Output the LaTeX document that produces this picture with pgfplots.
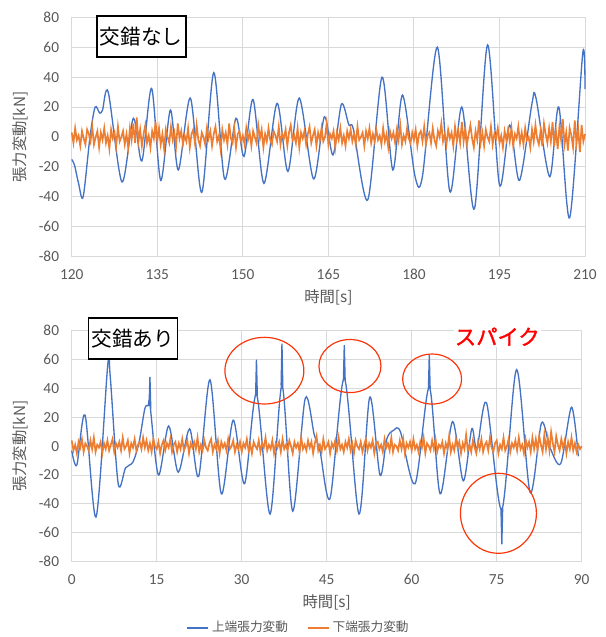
\documentclass[border=0pt]{standalone}
\usepackage{pgfplots}
\pgfplotsset{compat=1.18}
\usepackage{fontspec}
\setmainfont{Carlito}
\newfontfamily\jp{Noto Sans CJK JP}
\newfontfamily\jpbold[FakeBold=1.5]{Noto Sans CJK JP}
\definecolor{blueline}{HTML}{4472C4}
\definecolor{orangeline}{HTML}{ED7D31}
\definecolor{gridgray}{HTML}{D9D9D9}
\definecolor{tickgray}{HTML}{595959}
\definecolor{circred}{RGB}{250,55,10}
\pgfplotsset{
  panel/.style={
    scale only axis,
    ymin=-80, ymax=80, ytick={-80,-60,...,80},
    grid=major,
    major grid style={draw=gridgray, line width=0.75pt},
    axis line style={draw=gridgray, line width=0.75pt},
    major tick length=0pt,
    tick style={draw=none},
    ticklabel style={font=\fontsize{11.5}{13}\selectfont, text=tickgray},
    yticklabel style={xshift=-6pt},
    xticklabel style={yshift=-6pt},
    /pgf/number format/assume math mode=true,
    every axis y label/.style={at={(axis description cs:0,0.5)}, xshift=-38.8pt, rotate=90, anchor=center, font=\jp\fontsize{11.5}{13}\selectfont, text=tickgray},
    every axis x label/.style={at={(axis description cs:0.5,0)}, yshift=-30.75pt, anchor=center, font=\jp\fontsize{11.5}{13}\selectfont, text=tickgray},
    ylabel={張力変動[kN]},
    xlabel={時間[s]},
    clip=false,
  },
}
\begin{document}
\begin{tikzpicture}
\path[use as bounding box] (0,0) rectangle (454.5pt,477.75pt);
% ---------------- top panel ----------------
\begin{axis}[panel, at={(53.8pt,285.2pt)}, anchor=south west, width=385pt, height=179.6pt,
  xmin=120, xmax=210, xtick={120,135,...,210}]
\addplot[blueline, line width=1pt, smooth, tension=0.5] coordinates {
(120.0,-15) (120.5,-19) (121.2,-31) (122.0,-40) (123.2,0) (124.1,20) (124.9,16) (125.4,18) (126.4,30)
(128.8,-30) (130.8,12.5) (132.3,-16) (134.0,32.5) (135.6,-29) (137.3,18) (138.7,-22) (140.8,26)
(142.8,-37) (144.9,43) (146.8,-28) (148.8,12.5) (150.2,-13) (151.8,25) (153.7,-31) (156.0,22.5)
(157.9,-23) (159.9,26) (162.4,-28) (164.3,13.5) (165.8,-12) (167.3,22) (168.6,8) (169.4,5)
(171.9,-42) (174.4,40) (176.3,-22) (178.0,28) (180.2,-26.5) (181.5,-26) (184.1,60) (186.3,-36.5)
(188.4,20) (190.6,-48) (192.9,61.5) (195.0,-32) (196.8,8) (198.5,-29) (200.7,22.5) (201.4,26)
(203.8,-26.5) (205.4,20) (207.3,-54) (209.6,56) (210,32)};
\addplot[orangeline, line width=1.25pt] table[x expr={120+0.3*\coordindex}, y index=0, header=false, row sep=\\] {
3\\-4\\6\\-2\\1\\-6\\4\\-1\\-5\\5\\2\\-3\\7\\-5\\0\\4\\-7\\3\\-2\\6\\
-4\\1\\-8\\5\\-1\\3\\-6\\7\\-3\\0\\4\\-5\\2\\-7\\6\\-2\\9\\-4\\13\\-3\\
5\\-6\\2\\8\\-4\\1\\-7\\4\\-1\\10\\-3\\6\\-5\\2\\-8\\5\\0\\-4\\7\\-2\\
3\\-6\\9\\-1\\4\\-5\\1\\-3\\6\\-7\\2\\5\\-4\\8\\-2\\-6\\3\\0\\-5\\6\\
-1\\4\\-6\\2\\7\\-3\\1\\-8\\5\\-2\\3\\-5\\9\\-1\\-4\\6\\-7\\2\\4\\-3\\
1\\-5\\6\\-2\\3\\-6\\4\\0\\-4\\8\\-1\\5\\-7\\2\\-3\\6\\-2\\-5\\4\\1\\
-3\\7\\-5\\2\\-1\\5\\-6\\3\\8\\-2\\1\\-4\\6\\-7\\3\\-1\\4\\-5\\2\\7\\
-4\\1\\5\\-6\\3\\-2\\6\\-3\\0\\9\\-5\\2\\-1\\4\\-7\\3\\-2\\6\\-4\\1\\
-6\\4\\-1\\5\\-3\\2\\-5\\7\\-2\\0\\3\\-6\\4\\-1\\6\\-4\\2\\-3\\5\\-2\\
1\\-5\\6\\-3\\2\\-7\\4\\-1\\3\\-4\\5\\-2\\8\\-5\\1\\-3\\6\\-1\\-4\\3\\
-2\\5\\-6\\2\\4\\-3\\7\\-5\\1\\3\\-4\\6\\-2\\-6\\4\\0\\9\\-3\\2\\-5\\
5\\-1\\3\\-6\\7\\-2\\4\\-4\\10\\-3\\6\\-5\\2\\8\\-1\\-7\\4\\-2\\11\\-4\\
3\\-6\\5\\0\\-3\\7\\-5\\2\\-1\\6\\-4\\1\\-7\\4\\-2\\5\\-3\\6\\-6\\2\\
-1\\7\\-4\\3\\-5\\6\\-2\\0\\-7\\5\\-3\\8\\-1\\-5\\4\\-6\\9\\2\\-4\\6\\
-3\\10\\-6\\4\\-8\\7\\-2\\12\\-5\\3\\-9\\6\\1\\-7\\11\\-4\\5\\-10\\8\\-3\\
2\\};
\node[draw=black, line width=1.1pt, fill=white, minimum width=66.75pt, minimum height=30.75pt, inner sep=0pt, font=\jp\fontsize{15.5}{17}\selectfont] at (axis cs:132.2,67.3) {交錯なし};
\end{axis}
% ---------------- bottom panel ----------------
\begin{axis}[panel, at={(53.8pt,56.5pt)}, anchor=south west, width=382.5pt, height=173.25pt,
  xmin=0, xmax=90, xtick={0,15,...,90},
  legend style={at={(axis description cs:0.5,0)}, anchor=center, xshift=-21pt, yshift=-49.5pt, draw=none, fill=none,
    font=\jp\fontsize{9.5}{11}\selectfont, text=tickgray, legend columns=2,
    /tikz/every even column/.append style={column sep=12pt}},
  legend image code/.code={\draw[#1, line width=1.4pt] (0pt,0pt) -- (16pt,0pt);}]
\addplot[blueline, line width=1pt, smooth, tension=0.5] coordinates {
(0,-3) (0.9,-13) (2.35,21.5) (4.3,-49) (6.35,56) (6.8,48) (8.2,-26) (9.5,-15) (10.8,-11) (11.9,3)
(12.9,26) (13.5,28) (13.8,29) (15.3,-20) (17.1,14) (18.8,-18) (20.8,12) (22.4,-21) (24.4,46)
(26.4,-33) (28.5,18) (30.5,-26) (32.6,36) (35.0,-47) (37.1,42) (39.0,-45) (41.2,33) (42.8,8)
(43.8,-3) (45.6,-36) (48.1,47) (50.7,-47) (52.6,34) (54.4,-20) (55.6,5) (56.8,11) (58.0,10)
(60.6,-26) (63.1,41) (65.0,-33) (67.2,17) (69.1,-24) (70.6,12) (71.5,-2) (73.2,30) (75.9,-44)
(78.5,53) (80.9,-32) (82.9,16) (84.4,-1) (86.3,-12) (88.2,27) (89.4,-7)};
\addlegendentry{上端張力変動}
\addplot[orangeline, line width=1.25pt] table[x expr={0.3*\coordindex}, y index=0, header=false, row sep=\\] {
4\\-3\\1\\-5\\3\\-1\\5\\-4\\2\\0\\-3\\4\\-2\\6\\-4\\1\\-1\\3\\-5\\2\\
-2\\4\\-3\\1\\5\\-4\\2\\-1\\3\\-3\\6\\-2\\0\\4\\-5\\2\\-1\\5\\-3\\1\\
3\\-2\\6\\-1\\4\\-3\\2\\-4\\5\\0\\-2\\3\\-5\\1\\4\\-3\\2\\-1\\5\\-4\\
1\\3\\-4\\2\\-2\\5\\-3\\0\\4\\-5\\2\\-1\\3\\-2\\6\\-4\\1\\-3\\4\\-1\\
-3\\2\\5\\-4\\1\\-2\\4\\-5\\3\\-1\\2\\-3\\5\\-2\\0\\4\\-4\\1\\-2\\3\\
-4\\2\\-1\\5\\-3\\1\\-5\\3\\0\\-2\\4\\-4\\2\\-1\\6\\-3\\1\\-2\\4\\-5\\
2\\-1\\3\\-4\\5\\-2\\1\\-3\\4\\0\\-5\\3\\-1\\2\\-4\\6\\-2\\1\\-3\\4\\
-1\\3\\-5\\2\\7\\-3\\1\\-4\\5\\-2\\0\\3\\-5\\2\\-1\\4\\-3\\6\\-2\\1\\
-4\\3\\-1\\5\\-3\\2\\-5\\4\\0\\-2\\3\\-4\\1\\5\\-3\\2\\-1\\4\\-5\\2\\
3\\-2\\1\\-4\\5\\-1\\2\\-3\\6\\-4\\1\\0\\-3\\4\\-2\\5\\-5\\2\\-1\\3\\
-3\\5\\-2\\1\\-4\\3\\-1\\6\\-5\\2\\0\\-3\\4\\-2\\5\\-4\\1\\-1\\3\\-5\\
2\\-2\\7\\-4\\1\\-3\\5\\-1\\3\\-5\\2\\-2\\8\\-3\\1\\-4\\4\\-1\\-5\\3\\
-2\\5\\-4\\1\\3\\-3\\6\\-1\\-4\\2\\4\\-5\\1\\-2\\6\\-3\\0\\5\\-4\\2\\
-1\\4\\-3\\6\\-2\\1\\-5\\5\\-1\\3\\-4\\6\\-2\\5\\-3\\7\\1\\-4\\8\\-2\\
6\\-3\\10\\2\\-4\\7\\1\\-3\\5\\-1\\4\\-5\\3\\-2\\6\\-3\\2\\-4\\1\\-2\\
0\\};
\addlegendentry{下端張力変動}
\addplot[blueline, line width=1pt, forget plot] coordinates {(13.65,28) (13.8,48) (13.95,26)};
\addplot[blueline, line width=1pt, forget plot] coordinates {(32.45,35) (32.6,60) (32.75,35)};
\addplot[blueline, line width=1pt, forget plot] coordinates {(36.95,42) (37.1,71) (37.25,41)};
\addplot[blueline, line width=1pt, forget plot] coordinates {(47.95,46) (48.1,70) (48.25,46)};
\addplot[blueline, line width=1pt, forget plot] coordinates {(62.95,40) (63.1,63) (63.25,40)};
\addplot[blueline, line width=1pt, forget plot] coordinates {(75.75,-43) (75.9,-68) (76.05,-43)};
\draw[circred, line width=0.9pt] (axis cs:34.0,52.3) ellipse [x radius=29.6pt, y radius=25pt];
\draw[circred, line width=0.9pt] (axis cs:49.1,55.5) ellipse [x radius=23.25pt, y radius=19.9pt];
\draw[circred, line width=0.9pt] (axis cs:63.6,46.5) ellipse [x radius=22.1pt, y radius=18.75pt];
\draw[circred, line width=0.9pt] (axis cs:75.3,-46.5) ellipse [x radius=28.5pt, y radius=30pt];
\node[fill=white, inner sep=1pt, text=red, font=\jpbold\fontsize{16}{18}\selectfont] at (axis cs:75.1,75.8) {スパイク};
\node[draw=black, line width=1.1pt, fill=white, minimum width=66.75pt, minimum height=30.75pt, inner sep=0pt, font=\jp\fontsize{15.5}{17}\selectfont] at (axis cs:10.8,74.6) {交錯あり};
\end{axis}
\end{tikzpicture}
\end{document}
